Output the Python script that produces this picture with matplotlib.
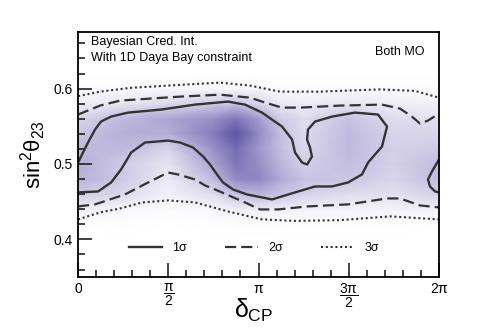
import numpy as np
import matplotlib
matplotlib.use("Agg")
import matplotlib.pyplot as plt
from matplotlib.colors import LinearSegmentedColormap
from matplotlib.lines import Line2D
from matplotlib.ticker import MultipleLocator

plt.rcParams['font.family'] = ['Liberation Sans', 'DejaVu Sans']
plt.rcParams['mathtext.fontset'] = 'custom'
plt.rcParams['mathtext.rm'] = 'Liberation Sans'
plt.rcParams['mathtext.it'] = 'Liberation Sans'
plt.rcParams['mathtext.bf'] = 'Liberation Sans:bold'

# posterior density grid (delta_CP in units of pi, sin^2 theta_23)
dens_x = [0, 0.25, 0.5, 0.75, 0.875, 1.0, 1.125, 1.25, 1.5, 1.75, 2.0]
dens_y = [0.40, 0.42, 0.44, 0.46, 0.48, 0.50, 0.52, 0.54, 0.56, 0.58, 0.60, 0.62]
dens = [
    [0, 0, 0, 0, 0, 0, 0, 0, 0, 0, 0],
    [0, 0.01, 0, 0.01, 0.01, 0.02, 0.01, 0.01, 0.01, 0.01, 0],
    [0.08, 0.05, 0.02, 0.05, 0.08, 0.10, 0.08, 0.07, 0.07, 0.07, 0.08],
    [0.28, 0.20, 0.07, 0.18, 0.33, 0.38, 0.30, 0.24, 0.18, 0.16, 0.25],
    [0.40, 0.28, 0.11, 0.35, 0.62, 0.64, 0.44, 0.32, 0.30, 0.22, 0.35],
    [0.42, 0.27, 0.14, 0.48, 0.74, 0.60, 0.38, 0.25, 0.34, 0.24, 0.35],
    [0.36, 0.36, 0.22, 0.58, 0.80, 0.55, 0.33, 0.21, 0.36, 0.24, 0.28],
    [0.30, 0.42, 0.42, 0.70, 0.95, 0.62, 0.33, 0.19, 0.36, 0.23, 0.22],
    [0.22, 0.36, 0.47, 0.58, 0.74, 0.52, 0.27, 0.18, 0.32, 0.18, 0.16],
    [0.09, 0.14, 0.20, 0.27, 0.32, 0.22, 0.12, 0.10, 0.14, 0.09, 0.08],
    [0.02, 0.03, 0.04, 0.05, 0.05, 0.04, 0.02, 0.02, 0.03, 0.02, 0.02],
    [0, 0, 0, 0, 0, 0, 0, 0, 0, 0, 0],
]

# 1 sigma contour (x in units of pi)
s1_x = [0, 0.055, 0.094, 0.127, 0.183, 0.277, 0.460, 0.648, 0.831, 0.925,
        1.019, 1.130, 1.186, 1.202, 1.241, 1.269, 1.296, 1.285, 1.269, 1.274,
        1.313, 1.407, 1.535, 1.662, 1.712, 1.684, 1.607, 1.573, 1.496, 1.407,
        1.313, 1.202, 1.075, 0.936, 0.859, 0.803, 0.770, 0.731, 0.693, 0.637,
        0.565, 0.499, 0.371, 0.294, 0.238, 0.183, 0.111, 0]
s1_y = [0.502, 0.5285, 0.5457, 0.5563, 0.5629, 0.5682, 0.5722, 0.5788, 0.5828, 0.5788,
        0.5682, 0.5497, 0.5325, 0.5152, 0.502, 0.4993, 0.5099, 0.5219, 0.5325, 0.5457,
        0.5563, 0.5629, 0.5682, 0.5656, 0.5497, 0.5232, 0.502, 0.4861, 0.4755, 0.4702,
        0.4702, 0.4623, 0.453, 0.4596, 0.4662, 0.4755, 0.4861, 0.4993, 0.5099, 0.5219,
        0.5285, 0.5311, 0.5285, 0.5152, 0.4927, 0.4755, 0.4636, 0.4623]
s1b_x = [2.0, 1.961, 1.939, 1.950, 1.978, 2.0]
s1b_y = [0.506, 0.4901, 0.4795, 0.4702, 0.4636, 0.4623]

# 2 sigma
s2u_x = [0, 0.122, 0.233, 0.399, 0.565, 0.787, 0.953, 1.036, 1.130, 1.230,
         1.452, 1.684, 1.784, 1.850, 1.895, 1.939, 2.0]
s2u_y = [0.5656, 0.5775, 0.5841, 0.5868, 0.5894, 0.592, 0.588, 0.5815, 0.5748, 0.5748,
         0.5775, 0.5788, 0.5735, 0.5629, 0.5536, 0.5576, 0.5669]
s2l_x = [0, 0.094, 0.260, 0.388, 0.499, 0.554, 0.648, 0.704, 0.759, 0.925,
         1.008, 1.108, 1.269, 1.496, 1.712, 1.784, 1.895, 2.0]
s2l_y = [0.4437, 0.4464, 0.4596, 0.4755, 0.4887, 0.4861, 0.4795, 0.4715, 0.4662, 0.449,
         0.4397, 0.4397, 0.4437, 0.4464, 0.4543, 0.4543, 0.445, 0.4424]

# 3 sigma
s3u_x = [0, 0.122, 0.288, 0.565, 0.787, 0.953, 1.119, 1.341, 1.673, 1.867, 2.0]
s3u_y = [0.590, 0.596, 0.601, 0.605, 0.608, 0.604, 0.596, 0.596, 0.599, 0.597, 0.588]
s3l_x = [0, 0.122, 0.233, 0.355, 0.499, 0.648, 0.831, 1.019, 1.202, 1.452, 1.729, 2.0]
s3l_y = [0.4265, 0.4358, 0.441, 0.449, 0.4517, 0.449, 0.437, 0.4265, 0.4245, 0.4255,
         0.4305, 0.4265]

fig = plt.figure(figsize=(4.88, 3.31), dpi=100)
ax = fig.add_axes([0.160, 0.163, 0.7396, 0.740])

cmap = LinearSegmentedColormap.from_list(
    "pur", ["#ffffff", "#c4bfe0", "#8a80bf", "#574d9e"])
X, Y = np.meshgrid(np.array(dens_x) * np.pi, dens_y)
ax.pcolormesh(X, Y, np.array(dens), cmap=cmap, vmin=0, vmax=1.0,
              shading='gouraud', zorder=0)

lc = '#333333'
pi = np.pi
ax.plot(np.array(s1_x) * pi, s1_y, color=lc, lw=1.7, solid_joinstyle='round')
ax.plot(np.array(s1b_x) * pi, s1b_y, color=lc, lw=1.7, solid_joinstyle='round')
for xs, ys in [(s2u_x, s2u_y), (s2l_x, s2l_y)]:
    ax.plot(np.array(xs) * pi, ys, color=lc, lw=1.6, dashes=(5, 2.3))
for xs, ys in [(s3u_x, s3u_y), (s3l_x, s3l_y)]:
    ax.plot(np.array(xs) * pi, ys, color=lc, lw=1.5, dashes=(1, 1.3))

ax.set_xlim(0, 2 * pi)
ax.set_ylim(0.35, 0.675)

ax.set_xticks([0, pi / 2, pi, 3 * pi / 2, 2 * pi])
ax.set_xticklabels(['0', r'$\dfrac{\pi}{2}$', r'$\pi$', r'$\dfrac{3\pi}{2}$', r'$2\pi$'])
ax.xaxis.set_minor_locator(MultipleLocator(pi / 10))
ax.set_yticks([0.4, 0.5, 0.6])
ax.set_yticklabels(['0.4', '0.5', '0.6'])
ax.yaxis.set_minor_locator(MultipleLocator(0.02))
ax.tick_params(which='both', direction='in', top=False, right=False,
               labelsize=10, width=1.2, color='#222222')
ax.tick_params(which='major', length=10)
ax.tick_params(which='minor', length=5)
for s in ax.spines.values():
    s.set_linewidth(1.3)

ax.set_xlabel(r'$\delta_{\mathrm{CP}}$', fontsize=18)
ax.xaxis.set_label_coords(0.485, -0.08)
ax.set_ylabel(r'$\mathrm{sin}^{2}\theta_{23}$', fontsize=16, labelpad=4)

ax.text(0.036, 0.959, 'Bayesian Cred. Int.', transform=ax.transAxes,
        fontsize=9, va='center', ha='left')
ax.text(0.036, 0.894, 'With 1D Daya Bay constraint', transform=ax.transAxes,
        fontsize=9, va='center', ha='left')
ax.text(0.961, 0.918, 'Both MO', transform=ax.transAxes,
        fontsize=9, va='center', ha='right')

handles = [
    Line2D([], [], color=lc, lw=1.7),
    Line2D([], [], color=lc, lw=1.6, dashes=(5, 2.3)),
    Line2D([], [], color=lc, lw=1.5, dashes=(1, 1.3)),
]
ax.legend(handles, ['1σ', '2σ', '3σ'], loc='center', bbox_to_anchor=(0.487, 0.118),
          ncol=3, frameon=False, fontsize=9, handlelength=2.7, columnspacing=3.0,
          handletextpad=0.8)

fig.savefig('out.png', dpi=100)
